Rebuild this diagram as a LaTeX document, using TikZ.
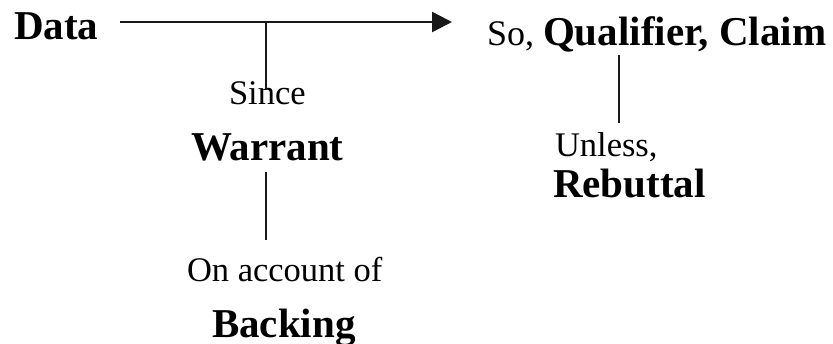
\documentclass[tikz,border=0pt]{standalone}
\usepackage{fontspec}
\setmainfont{Liberation Serif}
\usetikzlibrary{arrows.meta}
\begin{document}
\begin{tikzpicture}[x=1pt,y=-1pt,
  lbl/.style={anchor=base west,inner sep=0pt,outer sep=0pt},
  big/.style={lbl,font=\fontsize{41}{49}\selectfont\bfseries},
  small/.style={lbl,font=\fontsize{34.5}{41}\selectfont},
  link/.style={line width=2.4pt,draw=black!90}]
\useasboundingbox (0,0) rectangle (833,344);

% labels
\node[big] (data) at (14,40) {Data};
\node[lbl] (claim) at (487,46) {{\fontsize{36}{43}\selectfont So,\ }{\fontsize{41}{49}\selectfont\bfseries Qualifier, Claim}};
\node[small] (since) at (229,105) {Since};
\node[big] (warrant) at (191,161) {Warrant};
\node[small] (account) at (187,282) {On account of};
\node[big] (backing) at (212,338) {Backing};
\node[small] (unless) at (555,157) {Unless,};
\node[big] (rebuttal) at (553,198) {Rebuttal};

% connector end points
\coordinate (arrowstart) at (120,22);
\coordinate (arrowend) at (452,22);
\coordinate (junction) at (266,22);
\coordinate (sinceend) at (266,90);
\coordinate (wtop) at (266,172);
\coordinate (wbot) at (266,240);
\coordinate (ctop) at (619,55);
\coordinate (cbot) at (619,123);

% connectors
\draw[link,-{Triangle[length=20pt,width=20pt]}] (arrowstart) -- (arrowend);
\draw[link] (junction) -- (sinceend);
\draw[link] (wtop) -- (wbot);
\draw[link] (ctop) -- (cbot);
\end{tikzpicture}
\end{document}
